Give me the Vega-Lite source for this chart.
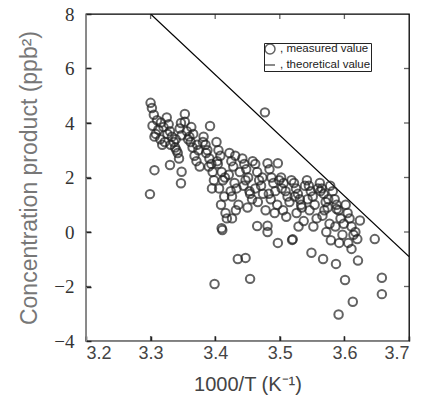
{
  "$schema": "https://vega.github.io/schema/vega-lite/v6.json",
  "autosize": {"type": "none"},
  "padding": {"left": 86, "top": 14, "right": 14, "bottom": 79},
  "width": 323,
  "height": 327,
  "background": "white",
  "config": {
    "view": {"stroke": "black", "strokeWidth": 1.3}
  },
  "datasets": {
    "line": [{"x": 3.3, "y": 8}, {"x": 3.7, "y": -0.9}],
    "xticks": [{"v": 3.3}, {"v": 3.4}, {"v": 3.5}, {"v": 3.6}],
    "yticks": [{"v": -2}, {"v": 0}, {"v": 2}, {"v": 4}, {"v": 6}],
    "pts": [
      {"x":3.300,"y":4.74},{"x":3.302,"y":4.55},{"x":3.305,"y":4.30},{"x":3.310,"y":4.10},{"x":3.303,"y":3.90},
      {"x":3.312,"y":3.75},{"x":3.308,"y":3.60},{"x":3.315,"y":3.40},{"x":3.318,"y":3.20},{"x":3.320,"y":3.85},
      {"x":3.316,"y":4.02},{"x":3.306,"y":3.50},{"x":3.306,"y":2.27},{"x":3.299,"y":1.39},{"x":3.322,"y":3.30},
      {"x":3.325,"y":4.20},{"x":3.328,"y":3.95},{"x":3.330,"y":3.70},{"x":3.333,"y":3.50},{"x":3.336,"y":3.30},
      {"x":3.338,"y":3.10},{"x":3.342,"y":2.90},{"x":3.326,"y":3.60},{"x":3.339,"y":3.40},{"x":3.345,"y":3.80},
      {"x":3.347,"y":4.00},{"x":3.344,"y":2.70},{"x":3.331,"y":3.20},{"x":3.330,"y":2.46},{"x":3.340,"y":3.00},
      {"x":3.348,"y":3.55},{"x":3.353,"y":4.33},{"x":3.353,"y":4.05},{"x":3.356,"y":3.70},{"x":3.360,"y":3.50},
      {"x":3.362,"y":3.30},{"x":3.365,"y":3.10},{"x":3.368,"y":2.80},{"x":3.371,"y":2.60},{"x":3.358,"y":3.40},
      {"x":3.366,"y":3.60},{"x":3.374,"y":3.00},{"x":3.348,"y":2.21},{"x":3.347,"y":1.79},{"x":3.376,"y":2.40},
      {"x":3.372,"y":3.20},{"x":3.363,"y":3.85},{"x":3.392,"y":3.89},{"x":3.382,"y":3.50},{"x":3.385,"y":3.20},
      {"x":3.388,"y":3.00},{"x":3.391,"y":2.70},{"x":3.394,"y":2.50},{"x":3.396,"y":2.20},{"x":3.398,"y":1.90},
      {"x":3.381,"y":3.30},{"x":3.386,"y":2.90},{"x":3.390,"y":2.40},{"x":3.395,"y":1.60},{"x":3.402,"y":3.30},
      {"x":3.405,"y":3.00},{"x":3.408,"y":2.80},{"x":3.404,"y":2.50},{"x":3.410,"y":2.20},{"x":3.412,"y":1.90},
      {"x":3.406,"y":1.60},{"x":3.414,"y":1.30},{"x":3.409,"y":1.00},{"x":3.416,"y":0.70},{"x":3.418,"y":0.50},
      {"x":3.403,"y":2.60},{"x":3.415,"y":2.00},{"x":3.410,"y":0.14},{"x":3.411,"y":0.07},{"x":3.399,"y":-1.91},
      {"x":3.422,"y":2.90},{"x":3.425,"y":2.60},{"x":3.428,"y":2.40},{"x":3.421,"y":2.10},{"x":3.430,"y":1.80},
      {"x":3.433,"y":1.60},{"x":3.426,"y":1.30},{"x":3.436,"y":1.00},{"x":3.432,"y":0.80},{"x":3.426,"y":0.50},
      {"x":3.438,"y":2.20},{"x":3.424,"y":1.50},{"x":3.431,"y":2.80},{"x":3.435,"y":-0.99},{"x":3.442,"y":2.70},
      {"x":3.445,"y":2.50},{"x":3.448,"y":2.30},{"x":3.451,"y":2.00},{"x":3.444,"y":1.70},{"x":3.454,"y":1.40},
      {"x":3.457,"y":1.20},{"x":3.450,"y":0.90},{"x":3.458,"y":2.60},{"x":3.447,"y":1.90},{"x":3.453,"y":1.50},
      {"x":3.447,"y":-0.95},{"x":3.454,"y":-1.72},{"x":3.462,"y":2.50},{"x":3.465,"y":2.20},{"x":3.468,"y":1.90},
      {"x":3.471,"y":1.70},{"x":3.474,"y":1.40},{"x":3.466,"y":1.10},{"x":3.478,"y":0.80},{"x":3.473,"y":2.00},
      {"x":3.462,"y":1.60},{"x":3.465,"y":0.22},{"x":3.481,"y":0.23},{"x":3.481,"y":0.00},{"x":3.477,"y":4.39},
      {"x":3.481,"y":2.52},{"x":3.484,"y":2.30},{"x":3.487,"y":2.00},{"x":3.490,"y":1.80},{"x":3.493,"y":1.50},
      {"x":3.486,"y":1.20},{"x":3.496,"y":1.00},{"x":3.492,"y":0.70},{"x":3.497,"y":2.52},{"x":3.499,"y":1.90},
      {"x":3.483,"y":1.40},{"x":3.497,"y":-0.40},{"x":3.502,"y":2.00},{"x":3.506,"y":1.80},{"x":3.509,"y":1.50},
      {"x":3.512,"y":1.30},{"x":3.515,"y":1.10},{"x":3.505,"y":0.80},{"x":3.510,"y":0.56},{"x":3.518,"y":1.90},
      {"x":3.503,"y":1.60},{"x":3.519,"y":-0.29},{"x":3.520,"y":-0.27},{"x":3.522,"y":1.80},{"x":3.525,"y":1.60},
      {"x":3.528,"y":1.40},{"x":3.531,"y":1.20},{"x":3.534,"y":0.90},{"x":3.526,"y":0.70},{"x":3.537,"y":0.40},
      {"x":3.539,"y":1.70},{"x":3.523,"y":1.30},{"x":3.533,"y":1.00},{"x":3.529,"y":0.20},{"x":3.542,"y":1.90},
      {"x":3.545,"y":1.70},{"x":3.548,"y":1.50},{"x":3.551,"y":1.30},{"x":3.554,"y":1.00},{"x":3.546,"y":0.80},
      {"x":3.557,"y":0.50},{"x":3.552,"y":0.20},{"x":3.559,"y":1.60},{"x":3.543,"y":1.20},{"x":3.549,"y":-0.76},
      {"x":3.562,"y":1.80},{"x":3.565,"y":1.60},{"x":3.568,"y":1.40},{"x":3.571,"y":1.10},{"x":3.574,"y":0.90},
      {"x":3.566,"y":0.60},{"x":3.577,"y":0.30},{"x":3.572,"y":0.00},{"x":3.579,"y":-0.30},{"x":3.563,"y":1.50},
      {"x":3.575,"y":1.20},{"x":3.569,"y":0.80},{"x":3.567,"y":-0.99},{"x":3.578,"y":1.70},{"x":3.582,"y":1.50},
      {"x":3.585,"y":1.20},{"x":3.588,"y":1.00},{"x":3.591,"y":0.80},{"x":3.594,"y":0.50},{"x":3.586,"y":0.20},
      {"x":3.597,"y":-0.10},{"x":3.592,"y":-0.40},{"x":3.588,"y":0.84},{"x":3.599,"y":0.30},{"x":3.587,"y":-1.17},
      {"x":3.591,"y":-3.03},{"x":3.602,"y":1.00},{"x":3.605,"y":0.70},{"x":3.608,"y":0.50},{"x":3.611,"y":0.20},
      {"x":3.614,"y":-0.10},{"x":3.606,"y":-0.40},{"x":3.611,"y":-0.62},{"x":3.601,"y":-1.76},{"x":3.613,"y":-2.56},
      {"x":3.617,"y":0.00},{"x":3.620,"y":-0.26},{"x":3.624,"y":0.42},{"x":3.647,"y":-0.26},{"x":3.621,"y":-1.05},
      {"x":3.658,"y":-1.68},{"x":3.658,"y":-2.28}
    ]
  },
  "layer": [
    {
      "data": {"name": "line"},
      "mark": {"type": "line", "color": "black", "strokeWidth": 1.2, "clip": true},
      "encoding": {
        "x": {"field": "x", "type": "quantitative", "scale": {"domain": [3.2, 3.7], "nice": false, "zero": false},
          "axis": {"orient": "bottom", "values": [3.2, 3.3, 3.4, 3.5, 3.6, 3.7], "format": ".1f", "grid": false,
            "ticks": true, "tickColor": "#222", "tickSize": -5, "tickWidth": 1.5,
            "labelFont": "Liberation Sans", "labelFontSize": 18, "labelColor": "#444", "labelPadding": 8,
            "title": "1000/T (K⁻¹)", "titleFont": "Liberation Sans", "titleFontSize": 20, "titleFontWeight": "normal",
            "titleColor": "#444", "titlePadding": 12}},
        "y": {"field": "y", "type": "quantitative", "scale": {"domain": [-4, 8], "nice": false, "zero": false},
          "axis": {"orient": "left", "values": [-4, -2, 0, 2, 4, 6, 8], "grid": false,
            "ticks": true, "tickColor": "#222", "tickSize": -5, "tickWidth": 1.5,
            "labelFont": "Liberation Serif", "labelFontSize": 19, "labelColor": "#333", "labelPadding": 17,
            "title": "Concentration product (ppb²)", "titleFont": "Liberation Sans", "titleFontSize": 23,
            "titleFontWeight": "normal", "titleColor": "#777", "titlePadding": 12}}
      }
    },
    {
      "data": {"name": "xticks"},
      "mark": {"type": "tick", "orient": "vertical", "size": 10, "thickness": 1.3, "color": "#222", "clip": true},
      "encoding": {
        "x": {"field": "v", "type": "quantitative", "axis": null},
        "y": {"datum": -4, "type": "quantitative", "axis": null}
      }
    },
    {
      "data": {"name": "xticks"},
      "mark": {"type": "tick", "orient": "vertical", "size": 10, "thickness": 1.3, "color": "#222", "clip": true},
      "encoding": {
        "x": {"field": "v", "type": "quantitative", "axis": null},
        "y": {"datum": 8, "type": "quantitative", "axis": null}
      }
    },
    {
      "data": {"name": "yticks"},
      "mark": {"type": "tick", "orient": "horizontal", "size": 10, "thickness": 1.3, "color": "#222", "clip": true},
      "encoding": {
        "y": {"field": "v", "type": "quantitative", "axis": null},
        "x": {"datum": 3.2, "type": "quantitative", "axis": null}
      }
    },
    {
      "data": {"name": "yticks"},
      "mark": {"type": "tick", "orient": "horizontal", "size": 10, "thickness": 1.3, "color": "#222", "clip": true},
      "encoding": {
        "y": {"field": "v", "type": "quantitative", "axis": null},
        "x": {"datum": 3.7, "type": "quantitative", "axis": null}
      }
    },
    {
      "data": {"name": "pts"},
      "transform": [{"calculate": "'measured value'", "as": "series"}],
      "mark": {"type": "point", "stroke": "#222", "size": 72},
      "encoding": {
        "x": {"field": "x", "type": "quantitative", "axis": null},
        "y": {"field": "y", "type": "quantitative", "axis": null},
        "shape": {"field": "series", "type": "nominal",
          "scale": {"domain": ["measured value", "theoretical value"], "range": ["circle", "stroke"]},
          "legend": {"orient": "none", "legendX": 178, "legendY": 29, "title": null, "strokeColor": "#222",
            "labelExpr": "', ' + datum.label", "labelFontSize": 11.5, "labelColor": "#222"}}
      }
    }
  ],
  "resolve": {"axis": {"x": "independent", "y": "independent"}}
}
